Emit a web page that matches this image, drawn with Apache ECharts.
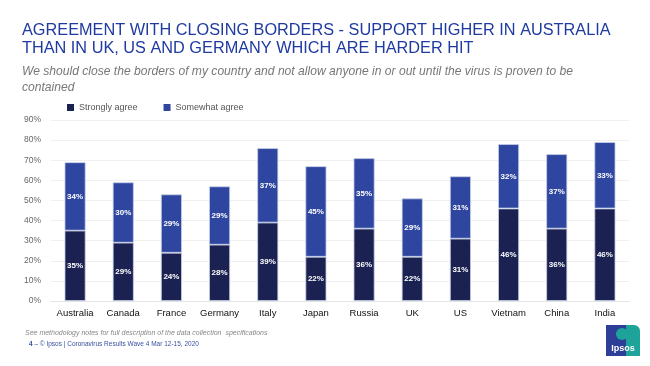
<!DOCTYPE html>
<html><head><meta charset="utf-8">
<script src="https://cdn.jsdelivr.net/npm/echarts@6/dist/echarts.min.js"></script>
<style>html,body{margin:0;padding:0;background:#fff}#c{width:650px;height:366px}</style>
</head><body><div id="c"></div>
<script>
var categories = ['Australia','Canada','France','Germany','Italy','Japan','Russia','UK','US','Vietnam','China','India'];
var stronglyAgree = [35,29,24,28,39,22,36,22,31,46,36,46];
var somewhatAgree = [34,30,29,29,37,45,35,29,31,32,37,33];
var yTicks = [0,10,20,30,40,50,60,70,80,90];

var chart = echarts.init(document.getElementById('c'));
var F = 'Liberation Sans, Arial, sans-serif';
chart.setOption({
  animation:false,
  textStyle:{fontFamily:F},
  title:[
    {text:'AGREEMENT WITH CLOSING BORDERS - SUPPORT HIGHER IN AUSTRALIA\nTHAN IN UK, US AND GERMANY WHICH ARE HARDER HIT',left:17,top:17,
     textStyle:{fontFamily:F,fontSize:16.3,fontWeight:'normal',color:'#1f3aa0',lineHeight:18}},
    {text:'We should close the borders of my country and not allow anyone in or out until the virus is proven to be\ncontained',left:17,top:59,
     textStyle:{fontFamily:F,fontSize:12.1,fontStyle:'italic',fontWeight:'normal',color:'#777',lineHeight:16}},
    {text:'See methodology notes for full description of the data collection  specifications',left:20,top:325,
     textStyle:{fontFamily:F,fontSize:7,fontStyle:'italic',fontWeight:'normal',color:'#888'}},
    {text:'{b|4} – © Ipsos | Coronavirus Results Wave 4 Mar 12-15, 2020',left:24,top:336,
     textStyle:{fontFamily:F,fontSize:6.5,fontWeight:'normal',color:'#3a50a0',rich:{b:{fontWeight:'bold',fontSize:6.5,color:'#3a50a0'}}}}
  ],
  legend:{left:62,top:98,itemWidth:7,itemHeight:7,itemGap:26,icon:'rect',
    itemStyle:{borderWidth:0},
    textStyle:{fontFamily:F,fontSize:9,color:'#555'},
    data:['Strongly agree','Somewhat agree']},
  grid:{left:51,right:21,top:120,bottom:65},
  xAxis:{type:'category',data:categories,
    axisLine:{lineStyle:{color:'#e4e4e4'}},axisTick:{show:false},
    axisLabel:{color:'#111',fontSize:9.5,margin:7,interval:0}},
  yAxis:{type:'value',min:0,max:90,interval:10,
    axisLabel:{formatter:function(v){return v+'%';},color:'#666',fontSize:8.5,margin:10},
    axisLine:{show:false},axisTick:{show:false},
    splitLine:{lineStyle:{color:'#f0f0f0'}}},
  series:[
    {name:'Strongly agree',type:'bar',stack:'a',data:stronglyAgree,barWidth:21,
     itemStyle:{color:'#1b2151',borderColor:'#c8cfe6',borderWidth:0.8},
     label:{show:true,position:'inside',formatter:'{c}%',color:'#fff',fontWeight:'bold',fontSize:8}},
    {name:'Somewhat agree',type:'bar',stack:'a',data:somewhatAgree,barWidth:21,
     itemStyle:{color:'#2e46a0',borderColor:'#c8cfe6',borderWidth:0.8},
     label:{show:true,position:'inside',formatter:'{c}%',color:'#fff',fontWeight:'bold',fontSize:8}}
  ],
  graphic:[
    {type:'rect',shape:{x:606,y:325,width:34,height:31,r:[0,6,0,0]},style:{fill:'#1ea39a'}},
    {type:'rect',shape:{x:606,y:325,width:20,height:31},style:{fill:'#2d3e98'}},
    {type:'circle',shape:{cx:622,cy:334,r:6},style:{fill:'#1ea39a'}},
    {type:'text',style:{x:623,y:349,text:'Ipsos',fill:'#fff',font:'bold 9px '+F,textAlign:'center',textVerticalAlign:'middle'}}
  ]
});
</script></body></html>
